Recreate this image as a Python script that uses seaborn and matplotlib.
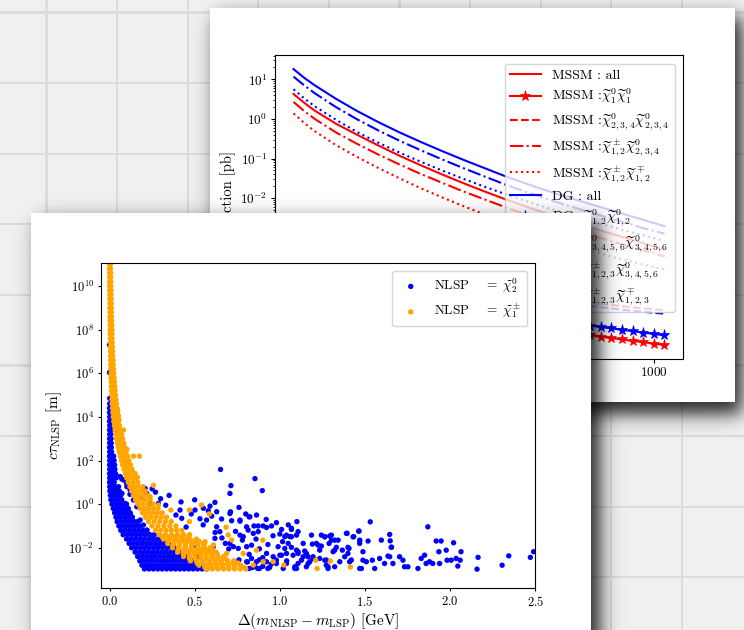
import matplotlib
matplotlib.use("Agg")
import matplotlib.pyplot as plt
import numpy as np
import pandas as pd
import seaborn as sns

W, H = 744, 630

# ---------------- back sheet: cross sections, log10(sigma / pb) ----------------
masses = [150, 175, 200, 250, 300, 350, 400, 450, 500, 550, 600, 650,
          700, 750, 800, 850, 875, 900, 925, 950, 975, 1000, 1025]

mssm_all = [0.63, 0.41, 0.21, -0.12, -0.40, -0.67, -0.93, -1.17, -1.40, -1.62, -1.83, -2.03,
            -2.22, -2.40, -2.57, -2.74, -2.82, -2.90, -2.98, -3.06, -3.14, -3.22, -3.30]
mssm_n1n1 = [-3.40, -3.60, -3.77, -4.05, -4.28, -4.47, -4.64, -4.79, -4.92, -5.03, -5.13, -5.22,
             -5.29, -5.36, -5.42, -5.47, -5.50, -5.54, -5.57, -5.61, -5.64, -5.68, -5.71]
mssm_n234 = [-2.60, -2.80, -2.96, -3.22, -3.43, -3.60, -3.75, -3.89, -4.01, -4.12, -4.22, -4.31,
             -4.40, -4.48, -4.56, -4.63, -4.67, -4.70, -4.73, -4.76, -4.79, -4.81, -4.84]
mssm_c12n234 = [0.43, 0.20, 0.00, -0.34, -0.63, -0.90, -1.15, -1.39, -1.61, -1.83, -2.03, -2.23,
                -2.42, -2.60, -2.77, -2.93, -3.01, -3.09, -3.17, -3.25, -3.32, -3.40, -3.47]
mssm_c12c12 = [0.14, -0.10, -0.31, -0.66, -0.96, -1.24, -1.50, -1.75, -1.98, -2.20, -2.41, -2.61,
               -2.80, -2.98, -3.15, -3.32, -3.40, -3.48, -3.55, -3.61, -3.68, -3.74, -3.80]
dg_all = [1.26, 1.04, 0.85, 0.51, 0.20, -0.08, -0.34, -0.58, -0.81, -1.03, -1.24, -1.45,
          -1.64, -1.82, -1.99, -2.15, -2.23, -2.31, -2.39, -2.47, -2.55, -2.63, -2.71]
dg_n12 = [-3.30, -3.50, -3.65, -3.90, -4.10, -4.27, -4.42, -4.55, -4.66, -4.76, -4.86, -4.94,
          -5.02, -5.09, -5.16, -5.22, -5.26, -5.29, -5.33, -5.36, -5.40, -5.43, -5.47]
dg_n3456 = [-2.70, -2.90, -3.05, -3.30, -3.50, -3.67, -3.82, -3.96, -4.08, -4.20, -4.30, -4.40,
            -4.48, -4.56, -4.64, -4.72, -4.76, -4.79, -4.82, -4.85, -4.87, -4.90, -4.92]
dg_c123n3456 = [1.07, 0.85, 0.65, 0.30, -0.01, -0.29, -0.55, -0.79, -1.02, -1.24, -1.45, -1.66,
                -1.85, -2.03, -2.20, -2.36, -2.44, -2.52, -2.60, -2.68, -2.76, -2.83, -2.90]
dg_c123c123 = [0.75, 0.52, 0.32, -0.02, -0.33, -0.60, -0.85, -1.08, -1.30, -1.51, -1.71, -1.90,
               -2.08, -2.25, -2.41, -2.57, -2.65, -2.72, -2.80, -2.87, -2.94, -3.01, -3.08]

xs_labels = [
    "MSSM : all",
    r"MSSM :$\widetilde{\chi}_1^0\widetilde{\chi}_1^0$",
    r"MSSM :$\widetilde{\chi}_{2,3,4}^0\widetilde{\chi}_{2,3,4}^0$",
    r"MSSM :$\widetilde{\chi}_{1,2}^\pm\widetilde{\chi}_{2,3,4}^0$",
    r"MSSM :$\widetilde{\chi}_{1,2}^\pm\widetilde{\chi}_{1,2}^\mp$",
    "DG : all",
    r"DG :$\widetilde{\chi}_{1,2}^0\widetilde{\chi}_{1,2}^0$",
    r"DG :$\widetilde{\chi}_{3,4,5,6}^0\widetilde{\chi}_{3,4,5,6}^0$",
    r"DG :$\widetilde{\chi}_{1,2,3}^\pm\widetilde{\chi}_{3,4,5,6}^0$",
    r"DG :$\widetilde{\chi}_{1,2,3}^\pm\widetilde{\chi}_{1,2,3}^\mp$",
]

# ---------------- front sheet: NLSP decay length, (delta m [GeV], log10(c tau / m)) ----------------
# dense bands given as rows: (log10 c tau, [delta m values])
orange_band_rows = [
    (11.2, [0.000, 0.005]), (11.0, [0.000, 0.006]), (10.8, [0.000, 0.006]),
    (10.6, [0.001, 0.007]), (10.4, [0.001, 0.007]), (10.2, [0.001, 0.008]),
    (10.0, [0.001, 0.008]), (9.8, [0.001, 0.009]), (9.6, [0.002, 0.009]),
    (9.4, [0.002, 0.010]), (9.2, [0.002, 0.010]), (9.0, [0.002, 0.011]),
    (8.8, [0.003, 0.011]), (8.6, [0.003, 0.012]), (8.4, [0.003, 0.013]),
    (8.2, [0.004, 0.013]), (8.0, [0.004, 0.014]), (7.8, [0.004, 0.015]),
    (7.6, [0.005, 0.015]), (7.4, [0.005, 0.016]), (7.2, [0.005, 0.017]),
    (7.0, [0.006, 0.018]), (6.8, [0.006, 0.019]), (6.6, [0.007, 0.021]),
    (6.4, [0.007, 0.022]), (6.2, [0.008, 0.023]), (6.0, [0.009, 0.025]),
    (5.8, [0.009, 0.027]), (5.6, [0.010, 0.029]), (5.4, [0.011, 0.031]),
    (5.2, [0.012, 0.033]), (5.0, [0.013, 0.035]), (4.8, [0.015, 0.038]),
    (4.6, [0.016, 0.029, 0.041]), (4.4, [0.018, 0.031, 0.044]), (4.2, [0.020, 0.033, 0.046]),
    (4.0, [0.022, 0.036, 0.049]), (3.8, [0.025, 0.039, 0.053]), (3.6, [0.029, 0.043, 0.058]),
    (3.4, [0.033, 0.048, 0.064]), (3.2, [0.037, 0.054, 0.071]), (3.0, [0.041, 0.059, 0.077]),
    (2.8, [0.046, 0.065, 0.084]), (2.6, [0.051, 0.071, 0.090]), (2.4, [0.057, 0.077, 0.097]),
    (2.2, [0.063, 0.085, 0.106]), (2.0, [0.070, 0.092, 0.114]),
    (1.8, [0.077, 0.100, 0.123]), (1.6, [0.085, 0.108, 0.132]), (1.4, [0.093, 0.117, 0.142]),
    (1.2, [0.101, 0.127, 0.153]), (1.0, [0.110, 0.138, 0.166]),
    (0.8, [0.120, 0.145, 0.170, 0.195]), (0.6, [0.130, 0.157, 0.184, 0.210]),
    (0.4, [0.141, 0.168, 0.196, 0.224]), (0.2, [0.153, 0.180, 0.208, 0.238]),
    (0.0, [0.166, 0.196, 0.226, 0.255]),
    (-0.2, [0.180, 0.206, 0.232, 0.258, 0.285]),
    (-0.4, [0.195, 0.224, 0.252, 0.281, 0.310]),
    (-0.6, [0.211, 0.242, 0.273, 0.304, 0.335]),
    (-0.8, [0.229, 0.262, 0.295, 0.328, 0.362]),
    (-1.0, [0.249, 0.284, 0.319, 0.354, 0.390]),
    (-1.2, [0.270, 0.301, 0.332, 0.363, 0.394, 0.425]),
    (-1.4, [0.293, 0.328, 0.364, 0.399, 0.435, 0.470]),
    (-1.5, [0.310, 0.348, 0.386, 0.424, 0.462]),
    (-1.6, [0.317, 0.356, 0.395, 0.433, 0.471, 0.510]),
    (-1.7, [0.345, 0.382, 0.419, 0.456, 0.493, 0.525]),
    (-1.8, [0.342, 0.377, 0.412, 0.446, 0.481, 0.515, 0.550]),
    (-1.9, [0.372, 0.409, 0.446, 0.483, 0.520, 0.557]),
    (-2.0, [0.370, 0.407, 0.443, 0.480, 0.517, 0.553, 0.590]),
    (-2.1, [0.402, 0.437, 0.472, 0.507, 0.542, 0.577, 0.605]),
    (-2.2, [0.400, 0.432, 0.464, 0.496, 0.528, 0.561, 0.593, 0.625]),
    (-2.3, [0.435, 0.468, 0.501, 0.534, 0.567, 0.600, 0.633]),
    (-2.4, [0.435, 0.469, 0.502, 0.536, 0.569, 0.603, 0.636, 0.670]),
    (-2.5, [0.470, 0.504, 0.538, 0.572, 0.606, 0.640, 0.680]),
    (-2.6, [0.475, 0.511, 0.548, 0.584, 0.621, 0.657, 0.694, 0.730]),
    (-2.7, [0.515, 0.550, 0.585, 0.620, 0.655, 0.690, 0.725, 0.755]),
    (-2.8, [0.525, 0.560, 0.595, 0.630, 0.665, 0.700, 0.735, 0.770]),
    (-2.9, [0.560, 0.595, 0.630, 0.665, 0.700, 0.735, 0.770, 0.790]),
    (-2.97, [0.570, 0.603, 0.636, 0.669, 0.701, 0.734, 0.767, 0.800]),
]

orange_scatter = [
    (0.082, 3.40), (0.102, 2.51), (0.141, 2.20), (0.176, 2.20), (0.150, 1.41),
    (0.164, 1.23), (0.258, 0.86), (0.238, 0.34), (0.287, -0.04), (0.360, -0.27),
    (0.469, -0.27), (0.540, -0.04), (0.586, -0.45), (0.469, -0.80), (0.684, -1.06),
    (0.697, -1.41), (0.717, -1.64), (0.561, -1.72), (0.610, -1.87), (0.863, -2.11),
    (0.785, -2.26), (0.688, -2.26), (0.902, -2.64), (0.961, -2.64), (1.023, -2.79),
    (0.844, -2.79), (0.900, -1.65), (1.211, -2.57), (1.219, -2.95), (1.297, -2.61),
    (1.414, -2.88), (0.047, 4.30), (0.052, 4.05), (0.056, 3.85),
]

blue_rows = [
    (4.6, [0.001]), (4.4, [0.000, 0.006]), (4.2, [0.000, 0.006]), (4.0, [0.001, 0.007]),
    (3.8, [0.000, 0.007]), (3.6, [0.001, 0.007]), (3.4, [0.000, 0.008]), (3.2, [0.001, 0.008]),
    (3.0, [0.000, 0.009]), (2.8, [0.001, 0.010]), (2.6, [0.000, 0.011]), (2.4, [0.001, 0.012]),
    (2.2, [0.000, 0.013, 0.024]), (2.0, [0.001, 0.014, 0.027]), (1.8, [0.000, 0.015, 0.030]),
    (1.6, [0.001, 0.016, 0.032]), (1.4, [0.000, 0.017, 0.035]), (1.2, [0.001, 0.018, 0.038]),
    (1.0, [0.000, 0.014, 0.028]),
    (0.8, [0.001, 0.017, 0.033]),
    (0.6, [0.002, 0.021, 0.040, 0.058]),
    (0.4, [0.005, 0.025, 0.045, 0.065]),
    (0.2, [0.008, 0.029, 0.050, 0.072]),
    (0.0, [0.014, 0.036, 0.058, 0.080, 0.100]),
    (-0.2, [0.022, 0.044, 0.066, 0.088, 0.110]),
    (-0.4, [0.030, 0.053, 0.076, 0.099, 0.122]),
    (-0.6, [0.038, 0.062, 0.086, 0.110, 0.134]),
    (-0.8, [0.045, 0.070, 0.095, 0.120, 0.145, 0.165]),
    (-1.0, [0.055, 0.080, 0.105, 0.130, 0.155, 0.180]),
    (-1.2, [0.066, 0.092, 0.118, 0.144, 0.170, 0.196, 0.220]),
    (-1.4, [0.080, 0.106, 0.132, 0.158, 0.184, 0.210, 0.236, 0.262]),
    (-1.6, [0.100, 0.126, 0.152, 0.178, 0.204, 0.230, 0.256, 0.282, 0.305]),
    (-1.8, [0.115, 0.141, 0.167, 0.193, 0.219, 0.245, 0.271, 0.297, 0.323, 0.345]),
    (-2.0, [0.130, 0.156, 0.182, 0.208, 0.234, 0.260, 0.286, 0.312, 0.338, 0.364, 0.380]),
    (-2.2, [0.150, 0.176, 0.202, 0.228, 0.254, 0.280, 0.306, 0.332, 0.358, 0.384, 0.410]),
    (-2.4, [0.165, 0.191, 0.217, 0.243, 0.269, 0.295, 0.321, 0.347, 0.373, 0.399, 0.425, 0.450]),
    (-2.6, [0.178, 0.204, 0.230, 0.256, 0.282, 0.308, 0.334, 0.360, 0.386, 0.412, 0.438, 0.464,
            0.490]),
    (-2.8, [0.190, 0.216, 0.242, 0.268, 0.294, 0.320, 0.346, 0.372, 0.398, 0.424, 0.450, 0.476,
            0.502, 0.528]),
    (-2.97, [0.205, 0.231, 0.257, 0.283, 0.309, 0.335, 0.361, 0.387, 0.413, 0.439, 0.465, 0.491,
             0.517, 0.543, 0.570]),
]

blue_scatter = [
    (0.000, 7.30), (0.000, 6.03), (0.001, 4.85),
    (0.047, 1.26), (0.063, 1.26), (0.072, 1.15), (0.082, 1.11), (0.053, 0.80), (0.102, 0.80),
    (0.100, 0.95), (0.121, 0.65), (0.073, 0.49), (0.120, 0.45), (0.141, 0.19), (0.092, 0.03),
    (0.160, -0.12), (0.112, -0.35), (0.131, -0.58), (0.180, -0.73), (0.199, -0.96),
    (0.219, -1.19), (0.238, -1.42), (0.199, 0.65), (0.219, 0.49), (0.190, 0.26), (0.238, 0.03),
    (0.209, 0.72), (0.287, 0.03),
    (0.652, 1.59), (0.854, 1.17), (0.713, 0.85), (0.707, 0.49), (0.897, 0.62), (0.619, 0.08),
    (0.590, -0.09), (0.551, -0.19), (0.580, -0.30), (0.424, -0.65), (0.414, -0.27), (0.502, -0.27),
    (0.531, -0.67), (0.570, -0.73), (0.658, -0.68), (0.717, -0.76), (0.766, -0.78), (0.820, -0.58),
    (0.848, -1.00), (0.873, -1.00), (0.902, -1.00), (0.922, -1.07), (0.951, -1.00), (1.010, -1.16),
    (1.068, -1.11), (1.000, -1.37), (1.029, -1.49), (1.068, -1.49), (1.098, -1.42), (0.805, -1.04),
    (0.814, -1.19), (0.844, -1.34), (0.873, -1.26), (0.766, -1.42), (0.785, -1.49), (0.629, -1.04),
    (0.648, -1.26), (0.619, -1.57), (0.707, -1.80), (0.609, -1.95), (0.512, -1.95), (0.531, -2.11),
    (0.522, -2.41), (0.727, -1.95), (0.756, -2.03), (0.805, -1.95), (0.834, -1.88), (0.922, -2.26),
    (0.961, -2.41), (1.000, -2.34), (1.039, -2.26), (1.078, -2.34), (1.107, -2.26), (0.834, -2.49),
    (0.863, -2.64), (0.805, -2.64), (0.922, -2.64), (0.980, -2.72), (1.088, -2.87), (1.107, -2.72),
    (0.620, -1.30), (0.660, -1.55), (0.740, -1.25), (0.780, -1.65), (0.700, -2.05), (0.860, -1.60),
    (0.880, -2.05), (0.930, -1.85), (0.960, -1.45), (0.990, -1.95), (0.900, -2.45), (0.840, -2.90),
    (0.880, -2.95), (0.940, -2.90), (0.970, -2.55), (1.040, -2.60), (0.820, -2.30), (0.760, -2.55),
    (0.680, -1.80), (0.550, -0.95), (0.600, -0.55), (0.480, -0.45), (0.450, -1.05), (0.390, -0.50),
    (0.330, -0.05), (0.300, 0.25), (0.350, 0.40), (0.420, 0.10), (0.500, 0.20), (0.270, 0.55),
    (0.250, 0.70), (0.710, -0.35), (0.760, -0.15), (0.800, -0.45), (0.920, -0.70), (0.980, -0.85),
    (1.050, -0.95), (1.100, -0.80), (0.629, -0.35), (0.707, -0.43), (0.766, -0.73), (0.824, -0.58),
    (0.863, -0.50), (0.820, -2.95), (0.850, -2.80), (0.870, -2.95), (0.900, -2.85), (0.930, -2.95),
    (0.810, -2.65), (0.880, -2.55), (0.950, -2.75),
    (1.010, -2.34), (1.049, -1.80), (1.098, -2.11), (1.137, -2.41), (1.186, -1.42), (1.215, -1.80),
    (1.234, -2.11), (1.264, -2.57), (0.980, -2.57), (1.020, -2.95), (1.098, -2.95), (1.156, -2.87),
    (1.195, -2.49), (1.244, -1.42), (1.283, -2.87), (1.289, -1.80),
    (1.531, -0.81), (1.869, -1.04), (1.918, -1.69), (1.947, -1.69), (2.020, -1.77), (1.645, -1.39),
    (1.648, -1.68), (1.656, -1.97), (1.596, -1.65), (1.518, -1.69), (1.469, -1.65), (1.469, -1.80),
    (1.463, -1.24), (1.395, -1.34), (1.430, -1.50), (1.406, -2.03), (1.400, -2.26), (1.303, -1.42),
    (1.303, -1.65), (1.313, -2.18), (1.322, -2.11), (1.264, -1.50), (1.225, -1.88),
    (1.137, -1.80), (1.156, -2.26), (1.127, -2.57), (1.166, -2.72), (1.488, -2.57), (1.508, -2.64),
    (1.543, -2.57), (1.586, -2.49), (1.615, -2.72), (1.645, -2.41), (1.703, -2.41), (1.723, -2.57),
    (1.732, -2.87), (1.752, -2.87), (1.811, -2.95), (1.830, -2.49), (1.850, -2.34), (1.859, -2.72),
    (1.879, -2.64), (1.898, -2.72), (1.938, -2.72), (1.934, -2.18), (1.977, -2.11), (1.982, -2.57),
    (2.006, -2.57), (2.035, -2.49), (2.045, -2.84), (2.059, -2.57), (2.064, -2.18), (2.164, -2.44),
    (2.158, -2.98), (2.305, -2.80), (2.344, -2.37), (2.471, -2.44), (2.490, -2.18),
    (1.352, -2.64), (1.381, -2.41), (1.234, -2.49), (1.273, -2.80), (1.195, -2.41), (1.410, -2.64),
    (1.557, -2.95), (1.664, -2.72), (1.479, -2.95), (1.322, -2.87),
    (1.068, -1.16), (1.107, -1.26), (1.039, -1.42), (1.059, -1.49), (1.016, -1.72), (1.029, -2.03),
    (1.068, -1.98), (1.107, -2.18), (1.146, -2.15), (1.166, -2.41), (1.191, -1.83), (1.244, -1.92),
    (1.264, -1.49), (1.293, -1.46), (1.322, -1.65), (1.342, -1.65), (1.332, -1.98), (1.367, -2.11),
    (1.400, -1.98), (1.391, -1.34), (1.434, -1.49), (1.465, -1.23), (1.469, -1.68), (1.488, -2.18),
    (1.654, -1.98), (1.635, -2.38), (1.088, -2.95), (1.283, -2.95),
    (1.469, -2.95), (1.039, -2.72), (1.176, -2.64), (1.273, -2.56), (1.420, -2.56),
]


def rows_to_points(rows):
    return [(dm, lg) for lg, dms in rows for dm in dms]


def px_rect(x0, y0, x1, y1):
    return [x0 / W, 1 - y1 / H, (x1 - x0) / W, (y1 - y0) / H]


def soft_box(x0, y0, x1, y1, blur):
    xs = np.arange(W) + 0.5
    ys = np.arange(H) + 0.5
    fx = 0.5 * (np.tanh((xs - x0) / blur) - np.tanh((xs - x1) / blur))
    fy = 0.5 * (np.tanh((ys - y0) / blur) - np.tanh((ys - y1) / blur))
    return fy[:, None] * fx[None, :]


plt.rcParams["font.family"] = "serif"
plt.rcParams["font.serif"] = ["cmr10", "DejaVu Serif"]
plt.rcParams["mathtext.fontset"] = "cm"
plt.rcParams["axes.formatter.use_mathtext"] = True
plt.rcParams["axes.unicode_minus"] = True

fig = plt.figure(figsize=(W / 100, H / 100), dpi=100)

# paper background with grid and the back sheet
paper = np.empty((H, W, 3))
paper[:] = (0.945, 0.945, 0.937)
cols = np.arange(W) + 0.5
rows = np.arange(H) + 0.5
for gx in np.arange(46.5, W, 70.6):
    paper[:, np.abs(cols - gx) <= 1.0] = (0.865, 0.865, 0.86)
for gy in np.arange(12.5, H, 70.6):
    paper[np.abs(rows - gy) <= 1.0, :] = (0.865, 0.865, 0.86)
back_shadow = 0.85 * soft_box(216, 17, 742, 414, 11)
paper *= (1 - back_shadow[..., None])
paper[8:402, 210:735] = 1.0

ax_bg = fig.add_axes([0, 0, 1, 1])
ax_bg.imshow(paper, extent=(0, W, H, 0), interpolation="nearest", aspect="auto")
ax_bg.set_xlim(0, W)
ax_bg.set_ylim(H, 0)
ax_bg.set_axis_off()

# ---- back plot ----
ax_back = fig.add_axes(px_rect(275, 55.3, 683, 358.7))
back_series = [
    (mssm_all, "red", "-", None), (mssm_n1n1, "red", "-", "*"),
    (mssm_n234, "red", "--", None), (mssm_c12n234, "red", "-.", None),
    (mssm_c12c12, "red", ":", None),
    (dg_all, "blue", "-", None), (dg_n12, "blue", "-", "*"),
    (dg_n3456, "blue", "--", None), (dg_c123n3456, "blue", "-.", None),
    (dg_c123c123, "blue", ":", None),
]
for (vals, color, ls, mk), label in zip(back_series, xs_labels):
    kws = dict(color=color, linestyle=ls, linewidth=1.5, label=label)
    if mk:
        kws.update(marker=mk, markersize=8, markeredgecolor=color, markeredgewidth=0.5)
    sns.lineplot(x=masses, y=10.0 ** np.array(vals), ax=ax_back, **kws)
ax_back.set_yscale("log")
ax_back.set_ylabel("Cross section [pb]", fontsize=10.5, labelpad=3)
ax_back.set_xlabel(r"$m$ [GeV]", fontsize=10.5)
ax_back.tick_params(labelsize=9.5, length=2.8, pad=2.6)
ax_back.tick_params(which="minor", length=1.8)
ax_back.legend(loc="upper right", fontsize=10, handlelength=2.2, labelspacing=0.38,
               borderaxespad=0.6, frameon=True)

# ---- front sheet overlay (shadow + white card) ----
overlay = np.zeros((H, W, 4))
overlay[..., 3] = 0.85 * soft_box(39, 221, 600, 700, 11)
overlay[213:, 31:591] = 1.0
ax_ov = fig.add_axes([0, 0, 1, 1])
ax_ov.imshow(overlay, extent=(0, W, H, 0), interpolation="nearest", aspect="auto")
ax_ov.set_xlim(0, W)
ax_ov.set_ylim(H, 0)
ax_ov.set_axis_off()

# ---- front plot ----
blue_pts = pd.DataFrame(rows_to_points(blue_rows) + blue_scatter, columns=["dm", "log_ctau"])
orange_pts = pd.DataFrame(rows_to_points(orange_band_rows) + orange_scatter, columns=["dm", "log_ctau"])
blue_pts["ctau"] = 10.0 ** blue_pts["log_ctau"]
orange_pts["ctau"] = 10.0 ** orange_pts["log_ctau"]

ax_front = fig.add_axes(px_rect(101, 263.3, 535.3, 587.7))
sns.scatterplot(data=blue_pts, x="dm", y="ctau", ax=ax_front, color="blue", s=15,
                linewidth=0, edgecolor="none", label=r"NLSP $\quad=\;\widetilde{\chi}_2^0$")
sns.scatterplot(data=orange_pts, x="dm", y="ctau", ax=ax_front, color="orange", s=15,
                linewidth=0, edgecolor="none", label=r"NLSP $\quad=\;\widetilde{\chi}_1^\pm$")
ax_front.set_yscale("log")
ax_front.set_xlim(-0.05, 2.5)
ax_front.set_ylim(10 ** -3.83, 10 ** 11.04)
ax_front.set_yticks([1e-2, 1e0, 1e2, 1e4, 1e6, 1e8, 1e10])
ax_front.yaxis.set_minor_locator(matplotlib.ticker.NullLocator())
ax_front.set_xticks([0.0, 0.5, 1.0, 1.5, 2.0, 2.5])
ax_front.set_xlabel(r"$\Delta(m_{\mathrm{NLSP}} - m_{\mathrm{LSP}})$ [GeV]", fontsize=11, labelpad=2)
ax_front.set_ylabel(r"$c\tau_{\mathrm{NLSP}}$ [m]", fontsize=11, labelpad=3)
ax_front.tick_params(labelsize=9, length=2.5, pad=2.5)
ax_front.legend(loc="upper right", fontsize=9.5, frameon=True, borderaxespad=0.6)

fig.savefig("out.png", dpi=100)
